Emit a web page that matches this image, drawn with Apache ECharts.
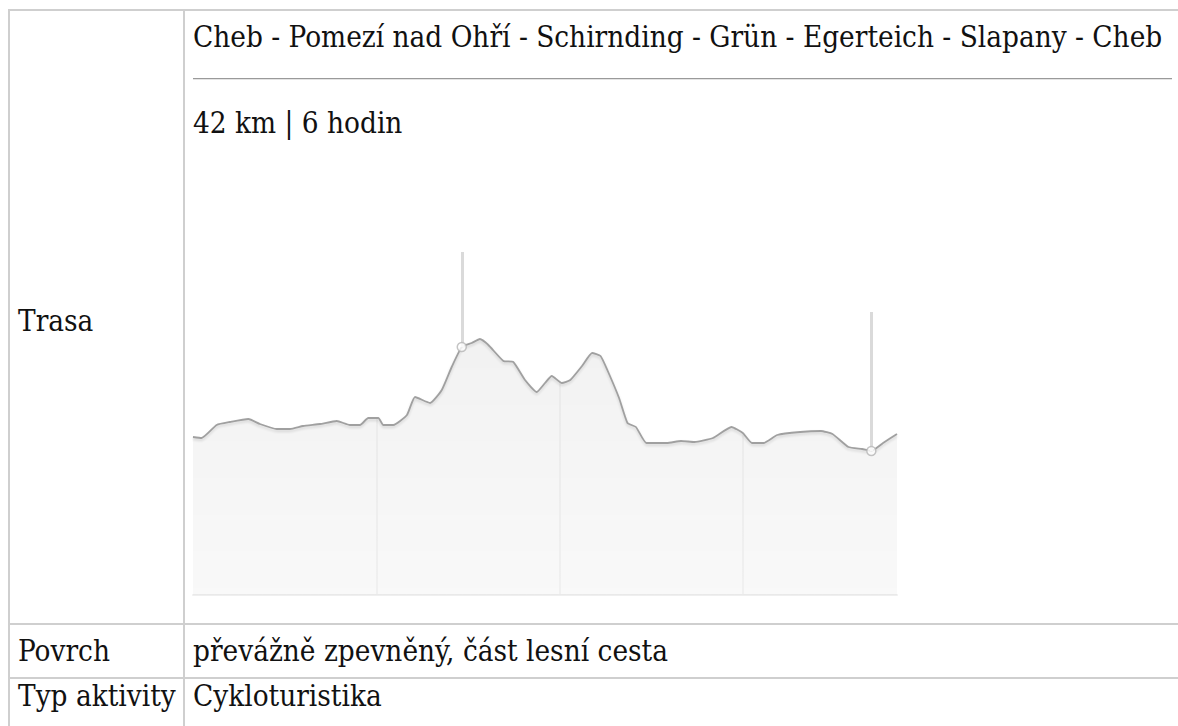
<!DOCTYPE html>
<html>
<head>
<meta charset="utf-8">
<script src="https://cdn.jsdelivr.net/npm/echarts@6/dist/echarts.min.js"></script>
<style>
  html, body { margin: 0; padding: 0; background: #fff; width: 1178px; height: 726px; overflow: hidden; }
  body { position: relative; font-family: "DejaVu Serif", serif; font-stretch: condensed; color: #111; }
  .ln { position: absolute; background: #cfcfcf; }
  .tx { position: absolute; font-size: 29.4px; line-height: 30px; white-space: nowrap; }
  #hr { position: absolute; left: 193px; top: 78px; width: 979px; height: 1px; background: #9a9a9a; border-bottom: 1px solid #e4e4e4; }
  #chart { position: absolute; left: 185px; top: 200px; width: 720px; height: 410px; }
</style>
</head>
<body>
  <div class="ln" style="left:8px;top:9px;width:1170px;height:2px;"></div>
  <div class="ln" style="left:8px;top:9px;width:2px;height:717px;"></div>
  <div class="ln" style="left:183px;top:9px;width:2px;height:717px;"></div>
  <div class="ln" style="left:8px;top:623px;width:1170px;height:2px;"></div>
  <div class="ln" style="left:8px;top:677px;width:1170px;height:2px;"></div>

  <div class="tx" id="t_trasa" style="left:18px;top:306px;"></div>
  <div class="tx" id="t_route" style="left:193px;top:22px;"></div>
  <div id="hr"></div>
  <div class="tx" id="t_info" style="left:193px;top:108px;"></div>
  <div class="tx" id="t_povrchL" style="left:18px;top:636px;"></div>
  <div class="tx" id="t_povrch" style="left:193px;top:636px;"></div>
  <div class="tx" id="t_typL" style="left:18px;top:681px;"></div>
  <div class="tx" id="t_typ" style="left:193px;top:681px;"></div>

  <div id="chart"></div>

<script>
// ---- texts ----
const rowLabels = ["Trasa", "Povrch", "Typ aktivity"];
const routeName = "Cheb - Pomezí nad Ohří - Schirnding - Grün - Egerteich - Slapany - Cheb";
const routeInfo = "42 km | 6 hodin";
const surface = "převážně zpevněný, část lesní cesta";
const activity = "Cykloturistika";

// ---- elevation profile (distance km, elevation m) ----
const distKm = [0.0, 0.47, 1.29, 2.02, 3.02, 3.65, 4.57, 5.29, 6.0, 6.93, 7.84, 8.56, 9.11, 9.56, 10.11, 10.38, 10.93, 11.67, 12.11, 12.93, 13.57, 14.11, 14.66, 15.2, 15.65, 16.11, 16.93, 17.47, 18.11, 18.75, 19.2, 19.57, 20.12, 20.58, 21.22, 21.77, 22.23, 22.6, 23.24, 23.7, 24.16, 24.73, 25.85, 26.62, 27.36, 28.36, 29.37, 29.99, 30.49, 31.12, 31.87, 33.12, 34.25, 34.88, 35.75, 36.5, 37.0, 37.64, 38.4];
const elevM  = [458, 457, 470, 473, 476, 471, 466, 466, 469, 471, 474, 470, 470, 477, 477, 470, 470, 480, 498, 492, 505, 528, 548, 552, 556, 550, 534, 533, 515, 503, 512, 519, 512, 515, 529, 542, 539, 525, 497, 472, 468, 452, 452, 454, 453, 457, 468, 462, 452, 452, 460, 463, 464, 461, 448, 446, 444, 452, 461];

// ---- waypoint markers ----
const markerKm   = [14.66, 37.0];
const markerElev = [548, 444];
const markerTop  = [643, 583];

// ---- axis ----
const X_MAX = 38.4;
const X_INTERVAL = 10;
const Y_MIN = 300;
const Y_MAX = 650;

document.getElementById('t_trasa').textContent = rowLabels[0];
document.getElementById('t_povrchL').textContent = rowLabels[1];
document.getElementById('t_typL').textContent = rowLabels[2];
document.getElementById('t_route').textContent = routeName;
document.getElementById('t_info').textContent = routeInfo;
document.getElementById('t_povrch').textContent = surface;
document.getElementById('t_typ').textContent = activity;

const profile = distKm.map((d, i) => [d, elevM[i]]);
const markerPts = markerKm.map((d, i) => [d, markerElev[i]]);
const markerLines = markerKm.map((d, i) => [
  { coord: [d, markerElev[i]] },
  { coord: [d, markerTop[i]] }
]);

const chart = echarts.init(document.getElementById('chart'), null, { renderer: 'canvas' });
chart.setOption({
  animation: false,
  grid: { left: 8, top: 45, width: 704, height: 350 },
  xAxis: {
    type: 'value', min: 0, max: X_MAX, interval: X_INTERVAL,
    axisLabel: { show: false }, axisTick: { show: false },
    axisLine: { show: true, lineStyle: { color: '#efefef', width: 2 } },
    splitLine: { show: true, showMinLine: false, showMaxLine: false, lineStyle: { color: '#f6f6f6', width: 2 } }
  },
  yAxis: {
    type: 'value', min: Y_MIN, max: Y_MAX,
    axisLabel: { show: false }, axisTick: { show: false },
    axisLine: { show: false }, splitLine: { show: false }
  },
  series: [
    {
      name: 'cover', type: 'line', data: profile, z: 2,
      symbol: 'none', smooth: 0.15, silent: true,
      lineStyle: { width: 0, opacity: 0 },
      areaStyle: { origin: 'end', color: '#ffffff', opacity: 1 }
    },
    {
      name: 'profile', type: 'line', data: profile, z: 3,
      symbol: 'none', smooth: 0.15,
      lineStyle: { color: '#a0a0a0', width: 1.8, shadowColor: 'rgba(0,0,0,0.15)', shadowBlur: 3, shadowOffsetY: 2 },
      areaStyle: {
        color: new echarts.graphic.LinearGradient(0, 0, 0, 1, [
          { offset: 0, color: 'rgba(0,0,0,0.075)' },
          { offset: 1, color: 'rgba(0,0,0,0.035)' }
        ])
      },
      markLine: {
        silent: true, symbol: ['none', 'none'], label: { show: false },
        lineStyle: { color: '#dadada', width: 3, type: 'solid' },
        data: markerLines
      }
    },
    {
      name: 'markers', type: 'scatter', data: markerPts, z: 5,
      symbol: 'circle', symbolSize: 9,
      itemStyle: { color: '#ffffff', borderColor: '#b5b5b5', borderWidth: 1.5 }
    }
  ]
});
</script>
</body>
</html>
